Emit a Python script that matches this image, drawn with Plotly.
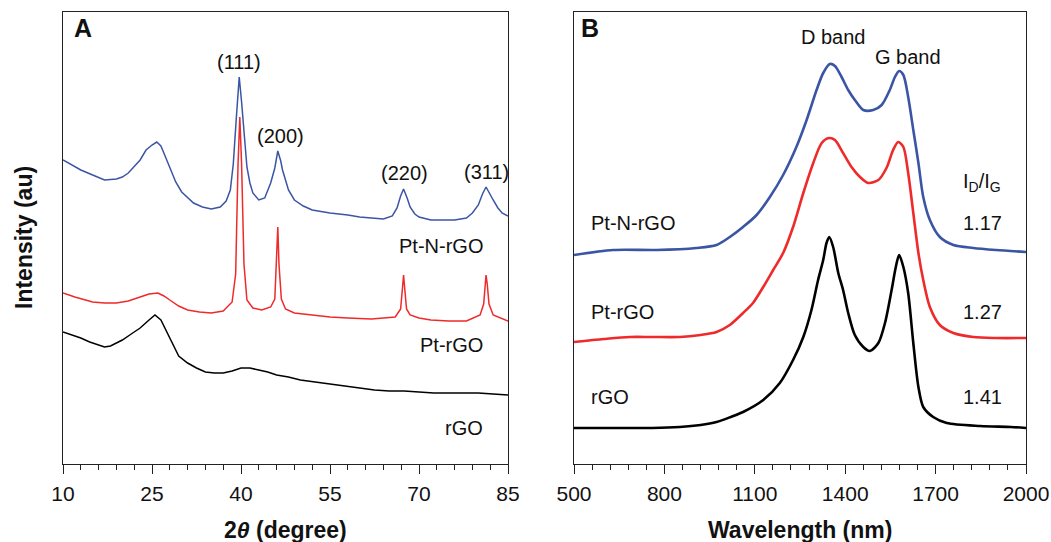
import plotly.graph_objects as go

# ---------------- Panel A: XRD ----------------
xrd_x_pt_n_rgo = [10, 11.5, 13, 15, 17, 19, 20, 21, 22, 23, 24, 25, 25.8, 26.5, 27, 28, 29, 30, 31, 32,
                  33.5, 35, 36.5, 37.5, 38.2, 38.7, 39.2, 39.7, 40.1, 40.5, 41, 41.5, 42, 43, 44, 45,
                  45.7, 46.2, 46.7, 47, 48, 49, 50.5, 52, 55, 58, 60, 62, 64, 65.5, 66.3, 66.9, 67.4,
                  68, 68.5, 69.3, 70, 72, 74, 76, 78, 79, 80, 80.7, 81.3, 81.9, 82.5, 83.3, 84, 85]
xrd_y_pt_n_rgo = [304, 299, 294, 289, 284, 285, 287, 291, 297, 304, 314, 319, 322, 318, 311, 297, 282, 272,
                  266, 261, 257, 255, 257, 263, 274, 300, 345, 387, 362, 331, 297, 281, 271, 264, 266,
                  281, 296, 313, 303, 294, 274, 264, 258, 254, 251, 249, 247, 246, 245, 248, 256, 268,
                  275, 266, 257, 250, 247, 244, 244, 244, 246, 251, 259, 270, 277, 270, 264, 256, 251, 248]

xrd_x_pt_rgo = [10, 12, 15, 17, 19, 21, 23, 24.5, 26, 27, 28, 29.5, 31, 33, 35, 37, 38.5, 39.1, 39.5,
                39.8, 40.1, 40.5, 41, 42, 43.5, 45, 45.7, 46.0, 46.2, 46.4, 46.8, 47.5, 49, 52, 55, 58,
                62, 66, 66.9, 67.2, 67.4, 67.6, 67.9, 68.5, 70, 72, 75, 78, 80.3, 80.9, 81.1, 81.3,
                81.5, 81.8, 82.5, 84, 85]
xrd_y_pt_rgo = [171, 167, 162, 161, 161, 163, 167, 170, 171, 168, 164, 158, 154, 152, 151, 153, 162, 190, 300,
                347, 300, 200, 164, 156, 154, 157, 165, 200, 237, 200, 165, 155, 151, 149, 147, 146,
                145, 147, 155, 175, 189, 175, 155, 149, 146, 144, 143, 143, 149, 160, 180, 189,
                180, 160, 149, 145, 143]

xrd_x_rgo = [10, 11.5, 13, 14.5, 16, 17, 18, 19, 20, 21.5, 23, 24.5, 25.5, 26.5, 27.5, 28.5, 29.5, 31,
             32.5, 34, 35.5, 37, 38.5, 40, 41.5, 43, 44.5, 46, 48, 50, 52.5, 55, 57.5, 60, 62.5, 65,
             67.5, 70, 72.5, 75, 77.5, 80, 82.5, 85]
xrd_y_rgo = [132, 129, 126, 122, 119, 117, 118, 121, 124, 130, 136, 144, 149, 144, 132, 119, 108, 101,
             96, 92, 91, 91, 93, 96, 96, 94, 92, 89, 87, 84, 82, 80, 78, 76, 74, 73,
             73, 72, 71, 71, 71, 71, 70, 69]

xrd_ticks = [10, 25, 40, 55, 70, 85]
xrd_peak_labels = ["(111)", "(200)", "(220)", "(311)"]
xrd_peak_pos = [39.7, 46.6, 67.5, 81.3]
xrd_peak_label_y = [402, 328, 291, 292]
xrd_sample_labels = ["Pt-N-rGO", "Pt-rGO", "rGO"]
xrd_sample_label_y = [218, 119, 36]

# ---------------- Panel B: Raman ----------------
raman_x_pt_n_rgo = [500, 630, 773, 906, 973, 1017, 1061, 1106, 1150, 1194, 1238, 1272, 1305, 1327, 1349,
                    1366, 1388, 1410, 1432, 1460, 1493, 1521, 1548, 1565, 1579, 1593, 1609, 1626, 1643,
                    1659, 1681, 1714, 1759, 1825, 1900, 2000]
raman_y_pt_n_rgo = [209, 214, 214, 216, 219, 227, 237, 249, 267, 289, 317, 344, 374, 391, 400,
                    398, 387, 374, 364, 354, 354, 359, 374, 387, 393, 389, 367, 334, 301,
                    267, 244, 227, 219, 216, 214, 212]

raman_x_pt_rgo = [500, 600, 685, 760, 851, 920, 973, 1017, 1061, 1094, 1128, 1161, 1194, 1227, 1261,
                  1294, 1322, 1346, 1366, 1393, 1421, 1449, 1476, 1510, 1537, 1559, 1576, 1593, 1609,
                  1626, 1643, 1659, 1681, 1714, 1759, 1825, 1900, 2000]
raman_y_pt_rgo = [122, 125, 127, 127, 127, 129, 132, 139, 151, 161, 177, 194, 211, 237, 271,
                  301, 321, 326, 324, 311, 297, 287, 281, 284, 296, 314, 322, 317, 291,
                  251, 211, 184, 157, 139, 131, 127, 126, 126]

raman_x_rgo = [500, 600, 685, 760, 851, 920, 973, 1020, 1061, 1128, 1183, 1227, 1261, 1288, 1310, 1327,
               1338, 1347, 1360, 1377, 1393, 1410, 1432, 1460, 1482, 1510, 1532, 1554, 1568, 1579,
               1593, 1609, 1626, 1643, 1659, 1692, 1737, 1848, 1950, 2000]
raman_y_rgo = [36, 36, 36, 36, 37, 39, 42, 47, 52, 64, 81, 104, 127, 154, 184, 204,
               221, 227, 217, 191, 174, 151, 129, 117, 113, 121, 141, 174, 197, 209,
               197, 171, 121, 77, 57, 47, 41, 38, 37, 36]

raman_ticks = [500, 800, 1100, 1400, 1700, 2000]
raman_sample_labels = ["Pt-N-rGO", "Pt-rGO", "rGO"]
raman_sample_label_y = [241, 152, 67]
raman_ratio_labels = ["1.17", "1.27", "1.41"]

BLUE = "#3b55a5"
RED = "#ee2a2a"
BLACK = "#000000"
FONT = "Liberation Sans, Arial, sans-serif"

fig = go.Figure()
fig.add_trace(go.Scatter(x=xrd_x_pt_n_rgo, y=xrd_y_pt_n_rgo, mode="lines",
                         line=dict(color=BLUE, width=1.5), xaxis="x", yaxis="y"))
fig.add_trace(go.Scatter(x=xrd_x_pt_rgo, y=xrd_y_pt_rgo, mode="lines",
                         line=dict(color=RED, width=1.5), xaxis="x", yaxis="y"))
fig.add_trace(go.Scatter(x=xrd_x_rgo, y=xrd_y_rgo, mode="lines",
                         line=dict(color=BLACK, width=1.5), xaxis="x", yaxis="y"))
fig.add_trace(go.Scatter(x=raman_x_pt_n_rgo, y=raman_y_pt_n_rgo, mode="lines",
                         line=dict(color=BLUE, width=2.6, shape="spline", smoothing=0.8),
                         xaxis="x2", yaxis="y2"))
fig.add_trace(go.Scatter(x=raman_x_pt_rgo, y=raman_y_pt_rgo, mode="lines",
                         line=dict(color=RED, width=2.6, shape="spline", smoothing=0.8),
                         xaxis="x2", yaxis="y2"))
fig.add_trace(go.Scatter(x=raman_x_rgo, y=raman_y_rgo, mode="lines",
                         line=dict(color=BLACK, width=2.6, shape="spline", smoothing=0.8),
                         xaxis="x2", yaxis="y2"))

W, H = 1051, 542
ydom = [(H - 464) / H, (H - 12) / H]

common_x = dict(showline=True, linecolor="#222", linewidth=1.3, mirror=True, ticks="outside",
                ticklen=9, tickwidth=1.2, tickcolor="#222", showgrid=False, zeroline=False,
                automargin=False,
                tickfont=dict(family=FONT, size=21, color="#111"), ticklabelstandoff=2)
common_y = dict(showline=True, linecolor="#222", linewidth=1.3, mirror=True, ticks="",
                automargin=False,
                showticklabels=False, showgrid=False, zeroline=False)

fig.update_layout(
    width=W, height=H, margin=dict(l=0, r=0, t=0, b=0, autoexpand=False),
    paper_bgcolor="white", plot_bgcolor="white", showlegend=False,
    font=dict(family=FONT, color="#111"),
    xaxis=dict(domain=[63 / W, 508 / W], range=[10, 85], tickvals=xrd_ticks,
               minor=dict(dtick=3, tick0=10, ticks="outside", ticklen=5, tickcolor="#222"),
               anchor="y", **common_x),
    yaxis=dict(domain=ydom, range=[0, 452], anchor="x", **common_y),
    xaxis2=dict(domain=[574 / W, 1026 / W], range=[500, 2000], tickvals=raman_ticks,
                minor=dict(dtick=60, tick0=500, ticks="outside", ticklen=5, tickcolor="#222"),
                anchor="y2", **common_x),
    yaxis2=dict(domain=ydom, range=[0, 452], anchor="x2", **common_y),
)

TS = 20
ann = []
# Panel letters
ann.append(dict(text="<b>A</b>", xref="x domain", yref="y domain", x=0.02, y=1.0,
                xanchor="left", yanchor="top", showarrow=False, font=dict(size=25, family=FONT)))
ann.append(dict(text="<b>B</b>", xref="x2 domain", yref="y2 domain", x=0.012, y=1.0,
                xanchor="left", yanchor="top", showarrow=False, font=dict(size=25, family=FONT)))
# XRD peak labels
for lab, px, py in zip(xrd_peak_labels, xrd_peak_pos, xrd_peak_label_y):
    ann.append(dict(text=lab, x=px, y=py, xref="x", yref="y", showarrow=False,
                    yanchor="middle", font=dict(size=TS, family=FONT)))
for lab, py in zip(xrd_sample_labels, xrd_sample_label_y):
    ann.append(dict(text=lab, x=0.948, y=py, xref="x domain", yref="y", showarrow=False,
                    xanchor="right", yanchor="middle", font=dict(size=TS, family=FONT)))
# Raman labels
ann.append(dict(text="D band", x=1360, y=427, xref="x2", yref="y2", showarrow=False,
                yanchor="middle", font=dict(size=TS, family=FONT)))
ann.append(dict(text="G band", x=1610, y=407, xref="x2", yref="y2", showarrow=False,
                yanchor="middle", font=dict(size=TS, family=FONT)))
ann.append(dict(text="I<sub>D</sub>/I<sub>G</sub>", x=1855, y=282, xref="x2", yref="y2",
                yanchor="middle", showarrow=False, font=dict(size=TS, family=FONT)))
for lab, py in zip(raman_sample_labels, raman_sample_label_y):
    ann.append(dict(text=lab, x=0.033, y=py, xref="x2 domain", yref="y2", showarrow=False,
                    xanchor="left", yanchor="middle", font=dict(size=TS, family=FONT)))
for lab, py in zip(raman_ratio_labels, raman_sample_label_y):
    ann.append(dict(text=lab, x=1857, y=py, xref="x2", yref="y2", showarrow=False,
                    yanchor="middle", font=dict(size=TS, family=FONT)))
# Axis titles
ann.append(dict(text="<b>2</b><i><b>θ</b></i><b> (degree)</b>", x=0.5, y=-0.145, xref="x domain",
                yref="y domain", xanchor="center", yanchor="middle", showarrow=False,
                font=dict(size=23, family=FONT)))
ann.append(dict(text="<b>Wavelength (nm)</b>", x=0.5, y=-0.145, xref="x2 domain",
                yref="y2 domain", xanchor="center", yanchor="middle", showarrow=False,
                font=dict(size=23, family=FONT)))
ann.append(dict(text="<b>Intensity (au)</b>", x=24 / W, y=0.5 * (ydom[0] + ydom[1]), xref="paper",
                yref="paper", xanchor="center", yanchor="middle", showarrow=False, textangle=-90,
                font=dict(size=23, family=FONT)))
fig.update_layout(annotations=ann)

fig.write_html("out.html", config={"displayModeBar": False},
               post_script="document.body.style.margin='0';document.body.style.overflow='hidden';")
